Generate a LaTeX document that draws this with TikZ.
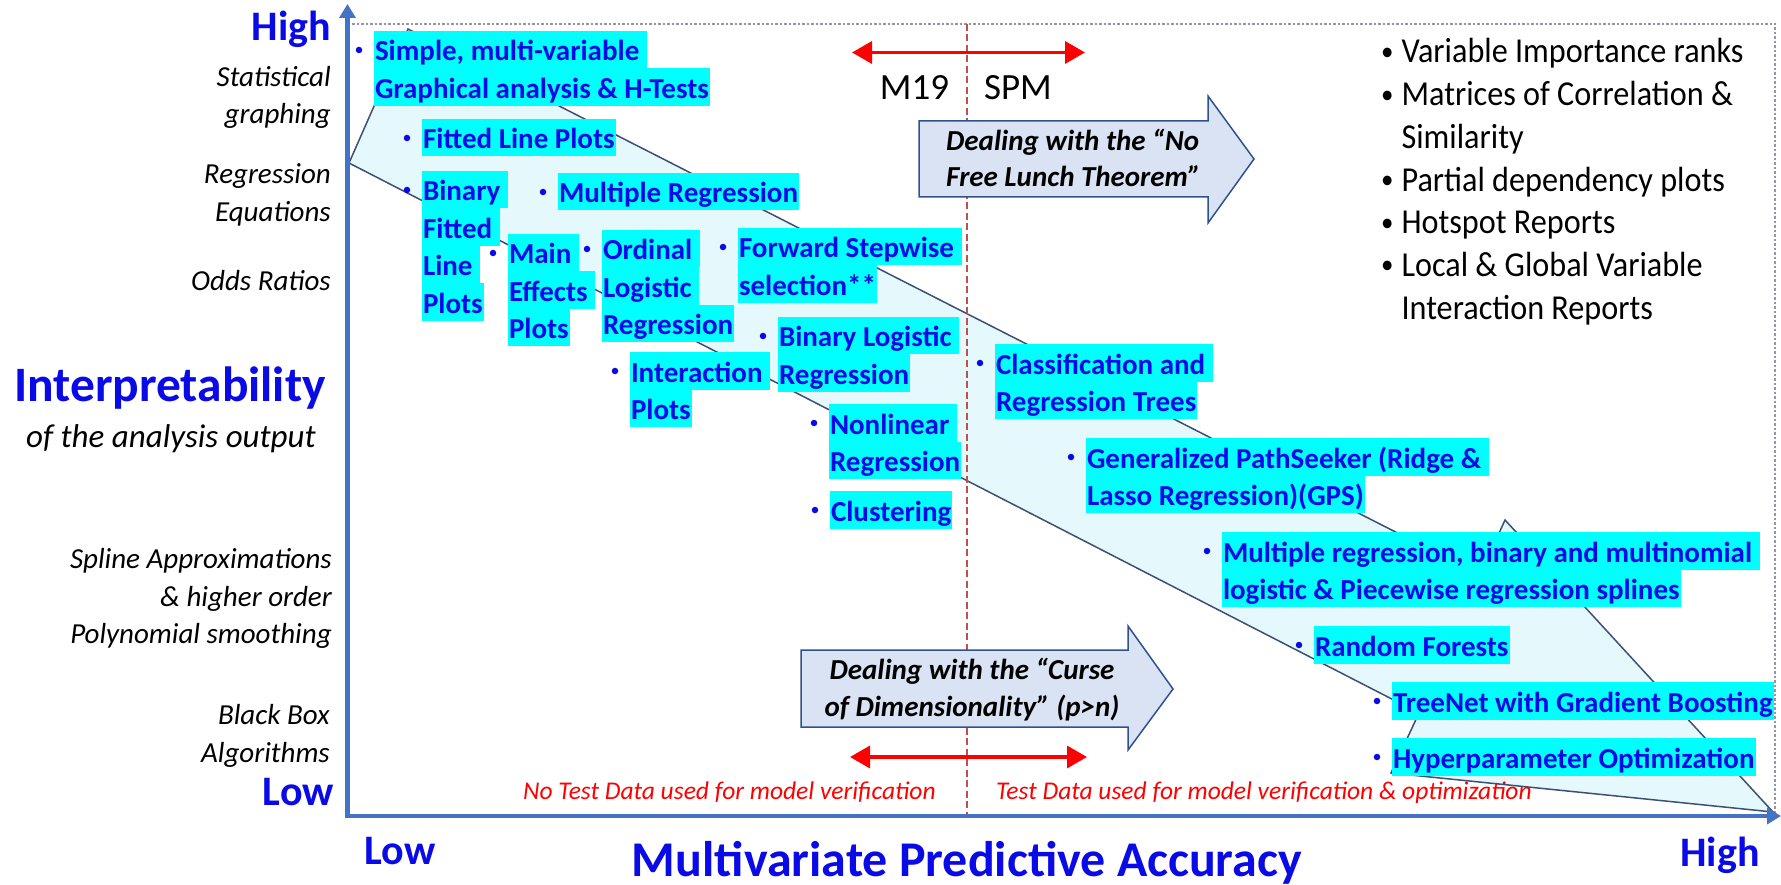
\documentclass[tikz,border=0pt]{standalone}
\usepackage{fontspec}
\setmainfont{Carlito}
\newfontfamily\narrowfont[FakeStretch=0.92]{Carlito}
\usetikzlibrary{arrows.meta,calc}

\definecolor{axisblue}{RGB}{68,114,196}
\definecolor{itemblue}{RGB}{10,10,230}
\definecolor{hlcyan}{RGB}{0,255,255}
\definecolor{bandfill}{RGB}{229,248,252}
\definecolor{bandline}{RGB}{60,80,118}
\definecolor{blockfill}{RGB}{218,227,243}
\definecolor{blockline}{RGB}{47,82,143}
\definecolor{splitred}{RGB}{192,80,77}
\definecolor{framegray}{RGB}{150,150,160}

\setlength{\fboxsep}{0pt}
% highlighted text line: cyan band of fixed height behind the words
\newcommand\hl[1]{\colorbox{hlcyan}{\kern1pt\vrule width0pt height30pt depth7.5pt\relax #1\kern1pt}}
% a bulleted, highlighted method entry
\newcommand\bitem[3]{%
  \node[item] (#1) at (#2) {#3};
  \node[bdot] (#1-dot) at ($(#1.north west)+(-15,19)$) {};
}
% small bullet for the list of outputs
\newcommand\smallbul{\raisebox{2.5pt}{\fontsize{27}{30}\selectfont\textbullet}}

\begin{document}
\begin{tikzpicture}[x=1pt,y=-1pt,
  item/.style={anchor=north west, inner sep=0pt, outer sep=0pt, align=left,
    text=itemblue, font=\fontsize{29}{37.5}\selectfont\bfseries},
  bdot/.style={circle, fill=itemblue, inner sep=0pt, minimum size=6.5pt},
  sidelab/.style={anchor=base east, inner sep=0pt, font=\fontsize{29}{35}\selectfont\itshape},
  axlab/.style={inner sep=0pt, text=itemblue, font=\fontsize{42}{50}\selectfont\bfseries},
  bigtitle/.style={inner sep=0pt, text=itemblue, font=\fontsize{50}{60}\selectfont\bfseries},
  redlab/.style={anchor=base west, inner sep=0pt, text=red, font=\fontsize{25.5}{30}\selectfont\itshape},
  blocktext/.style={inner sep=0pt, font=\fontsize{29}{36}\selectfont\bfseries\itshape},
  toolname/.style={anchor=base, inner sep=0pt, font=\fontsize{37}{44}\selectfont},
  blockarrow/.style={draw=blockline, fill=blockfill, line width=1.5pt, line join=miter},
  axisline/.style={draw=axisblue, line width=4.5pt, line join=miter},
  redarrow/.style={draw=red, line width=3.5pt,
    {Triangle[length=20pt,width=22pt]}-{Triangle[length=20pt,width=22pt]}}
]
\useasboundingbox (0,0) rectangle (1781,885);
\fill[white] (0,0) rectangle (1781,885);

% wide band running from simple methods down to the black-box methods
\draw[draw=bandline, fill=bandfill, line width=1.5pt, line join=miter]
  (408,29) -- (1480,575) -- (1505,520) -- (1773,812) -- (1391,773)
  -- (1419,713) -- (349,163) -- cycle;

% frame and the M19 / SPM split
\coordinate (frameL) at (352,24);
\coordinate (frameTR) at (1775,24);
\coordinate (frameBR) at (1775,814);
\draw[framegray, line width=1.3pt, dash pattern=on 2.5pt off 2pt]
  (frameL) -- (frameTR) -- (frameBR);
\coordinate (splitT) at (967,24);
\coordinate (splitB) at (967,816);
\draw[splitred, line width=1.2pt, dash pattern=on 7pt off 3.5pt] (splitT) -- (splitB);

% axes
\coordinate (ytop) at (347.5,4);
\coordinate (origin) at (347.5,816);
\coordinate (xend) at (1781,816);
\draw[axisline, {Triangle[length=14pt,width=16pt]}-{Triangle[length=14pt,width=16pt]}]
  (ytop) -- (origin) -- (xend);

% block arrows
\draw[blockarrow] (919,121) -- (1208,121) -- (1208,96) -- (1254,159)
  -- (1208,223) -- (1208,197) -- (919,197) -- cycle;
\node[blocktext, anchor=base west] (nfl1) at (946,151) {Dealing with the “No};
\node[blocktext, anchor=base west] (nfl2) at (946,187) {Free Lunch Theorem”};

\draw[blockarrow] (801,650) -- (1128,650) -- (1128,626) -- (1173,689)
  -- (1128,750) -- (1128,727) -- (801,727) -- cycle;
\node[blocktext, anchor=base] (cod1) at (972,679) {Dealing with the “Curse};
\node[blocktext, anchor=base] (cod2) at (972,716) {of Dimensionality” (p>n)};

% red double arrows
\coordinate (rtL) at (852,52.5);
\coordinate (rtR) at (1085,52.5);
\draw[redarrow] (rtL) -- (rtR);
\coordinate (rbL) at (850,757);
\coordinate (rbR) at (1087,757);
\draw[redarrow] (rbL) -- (rbR);

\node[toolname] (m19) at (914.5,100) {M19};
\node[toolname] (spm) at (1018,100) {SPM};

% methods
\bitem{simple}{374,31}{\hl{Simple, multi-variable\ }\\\hl{Graphical analysis \& H-Tests}}
\bitem{fitted}{422,119}{\hl{Fitted Line Plots}}
\bitem{binfit}{422,171}{\hl{Binary\ }\\\hl{Fitted\ }\\\hl{Line\ }\\\hl{Plots}}
\bitem{multreg}{558,173}{\hl{Multiple Regression}}
\bitem{maineff}{508,234}{\hl{Main\ }\\\hl{Effects\ }\\\hl{Plots}}
\bitem{ordinal}{602,230}{\hl{Ordinal\ }\\\hl{Logistic\ }\\\hl{Regression}}
\bitem{forward}{738,228}{\hl{Forward Stepwise\ }\\\hl{selection**}}
\bitem{binlog}{778,317}{\hl{Binary Logistic\ }\\\hl{Regression}}
\bitem{interact}{630,352}{\hl{Interaction\ }\\\hl{Plots}}
\bitem{nonlin}{829,404}{\hl{Nonlinear\ }\\\hl{Regression}}
\bitem{cluster}{830,491}{\hl{Clustering}}
\bitem{cart}{995,344}{\hl{Classification and\ }\\\hl{Regression Trees}}
\bitem{gps}{1086,438}{\hl{Generalized PathSeeker (Ridge \&\ }\\\hl{Lasso Regression)(GPS)}}
\bitem{mars}{1222,532}{\hl{Multiple regression, binary and multinomial\ }\\\hl{logistic \& Piecewise regression splines}}
\bitem{rf}{1314,626}{\hl{Random Forests}}
\bitem{treenet}{1392,682}{\hl{TreeNet with Gradient Boosting}}
\bitem{hyper}{1392,738}{\hl{Hyperparameter Optimization}}

% outputs offered by the tools
\node[anchor=base west, inner sep=0pt, font=\narrowfont\fontsize{35}{42.7}\selectfont] (outputs) at (1381,63)
  {\begin{tabular}[t]{@{}l@{\hspace{8pt}}l@{}}
   \smallbul & Variable Importance ranks\\
   \smallbul & Matrices of Correlation \&\\
             & Similarity\\
   \smallbul & Partial dependency plots\\
   \smallbul & Hotspot Reports\\
   \smallbul & Local \& Global Variable\\
             & Interaction Reports
   \end{tabular}};

% vertical axis labels
\node[axlab, anchor=base east] (yhigh) at (331,41) {High};
\node[axlab, anchor=base east] (ylow) at (334,805) {Low};
\node[sidelab] (ls1) at (331,87) {Statistical};
\node[sidelab] (ls2) at (331,124) {graphing};
\node[sidelab] (lr1) at (331,184) {Regression};
\node[sidelab] (lr2) at (331,222) {Equations};
\node[sidelab] (lo1) at (331,291) {Odds Ratios};
\node[sidelab] (lp1) at (332,568) {Spline Approximations};
\node[sidelab] (lp2) at (332,606) {\& higher order};
\node[sidelab] (lp3) at (332,643) {Polynomial smoothing};
\node[sidelab] (lb1) at (330,724) {Black Box};
\node[sidelab] (lb2) at (330,762) {Algorithms};
\node[bigtitle, anchor=base] (ytitle) at (170,401) {\fontsize{49.5}{60}\selectfont Interpretability};
\node[anchor=base, inner sep=0pt, font=\fontsize{33}{40}\selectfont\itshape] (ysub) at (171,447) {of the analysis output};

% horizontal axis labels
\node[axlab, anchor=base] (xlow) at (400,864) {Low};
\node[axlab, anchor=base] (xhigh) at (1720,866) {High};
\node[bigtitle, anchor=base] (xtitle) at (967,876) {Multivariate Predictive Accuracy};

\node[redlab] (notest) at (523,799) {No Test Data used for model verification};
\node[redlab] (test) at (996,799) {Test Data used for model verification \& optimization};
\end{tikzpicture}
\end{document}
